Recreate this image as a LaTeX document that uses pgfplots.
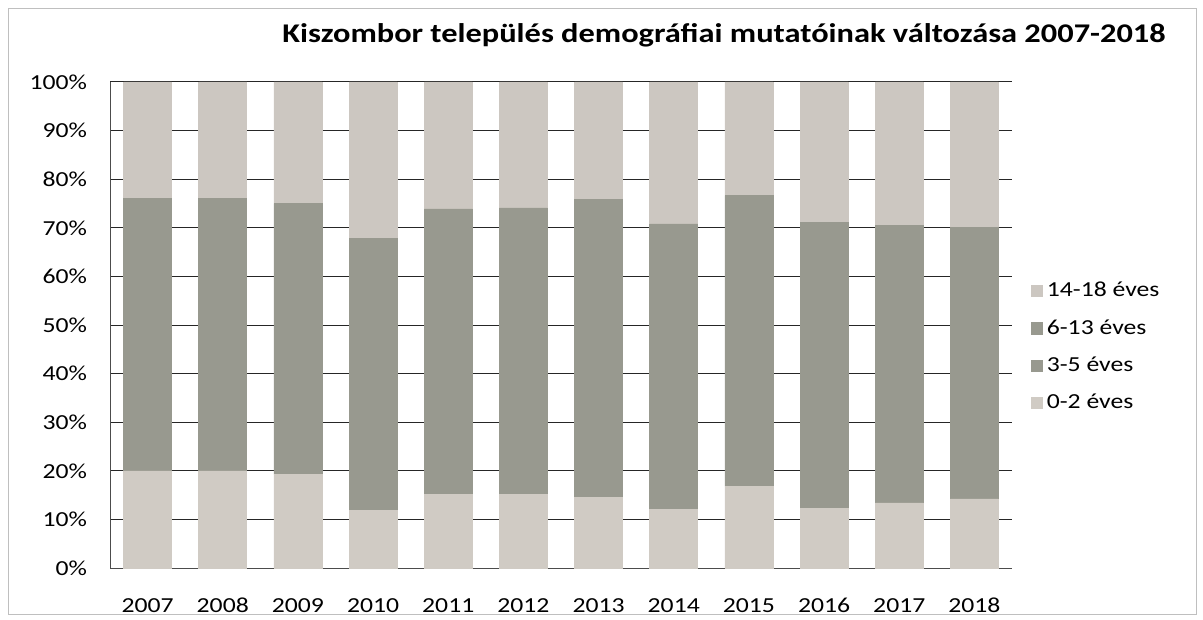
\documentclass[border=0pt]{standalone}
\usepackage{pgfplots}
\pgfplotsset{compat=1.18}
\usepackage{fontspec}
\setmainfont{Carlito}[FakeStretch=1.2]
\definecolor{cTop}{RGB}{204,199,193}
\definecolor{cBot}{RGB}{208,203,196}
\definecolor{cDark}{RGB}{152,153,143}
\begin{document}
\begin{tikzpicture}
\draw[use as bounding box, draw=none] (0pt,0pt) rectangle (601.5pt,-310pt);
\draw[black!25, line width=0.4pt] (4pt,-4pt) rectangle (598pt,-307pt);
\node[font=\fontsize{13.5}{15}\selectfont\bfseries] at (362pt,-17.5pt) {Kiszombor település demográfiai mutatóinak változása 2007-2018};
\begin{axis}[
  at={(55pt,-284pt)}, anchor=south west,
  scale only axis, width=451pt, height=243pt,
  ybar stacked, bar width=24pt,
  xmin=-0.5, xmax=11.5, ymin=0, ymax=100,
  xtick={0,...,11},
  xticklabels={2007,2008,2009,2010,2011,2012,2013,2014,2015,2016,2017,2018},
  ytick={0,10,...,100},
  yticklabel={\pgfmathprintnumber{\tick}\%},
  /pgf/number format/assume math mode=true,
  tick label style={font=\fontsize{10.7}{12}\selectfont},
  major tick length=0pt,
  ymajorgrids, grid style={black!85, line width=0.5pt},
  axis line style={black!70, line width=0.5pt},
  axis x line*=bottom, axis y line*=left,
  x axis line style={-}, y axis line style={-},
  xticklabel style={anchor=north, text height=7.5pt, text depth=0pt, yshift=-11pt},
  yticklabel style={xshift=-8pt},
  legend style={at={(1.014,0.455)}, anchor=west, draw=none, fill=none,
    font=\fontsize{10.7}{12}\selectfont, row sep=5.8pt,
    legend cell align=left},
  legend image code/.code={\fill[#1] (0pt,-2.8pt) rectangle (5.6pt,2.8pt);},
  reverse legend,
]
\addplot[fill=cBot, draw=cBot, line width=0.3pt] coordinates {(0,20) (1,20) (2,19.2) (3,11.8) (4,15.1) (5,15.1) (6,14.5) (7,12.0) (8,16.8) (9,12.3) (10,13.4) (11,14.2)};
\addlegendentry{0-2 éves}
\addplot[fill=cDark, draw=cDark, line width=0.3pt] coordinates {(0,12) (1,12) (2,12) (3,12) (4,12) (5,12) (6,12) (7,12) (8,12) (9,12) (10,12) (11,12)};
\addlegendentry{3-5 éves}
\addplot[fill=cDark, draw=cDark, line width=0.3pt] coordinates {(0,44) (1,44) (2,43.8) (3,44) (4,46.8) (5,47) (6,49.4) (7,46.8) (8,47.8) (9,46.8) (10,45.1) (11,43.9)};
\addlegendentry{6-13 éves}
\addplot[fill=cTop, draw=cTop, line width=0.3pt] coordinates {(0,24) (1,24) (2,25) (3,32.2) (4,26.1) (5,25.9) (6,24.1) (7,29.2) (8,23.4) (9,28.9) (10,29.5) (11,29.9)};
\addlegendentry{14-18 éves}
\end{axis}
\end{tikzpicture}
\end{document}
